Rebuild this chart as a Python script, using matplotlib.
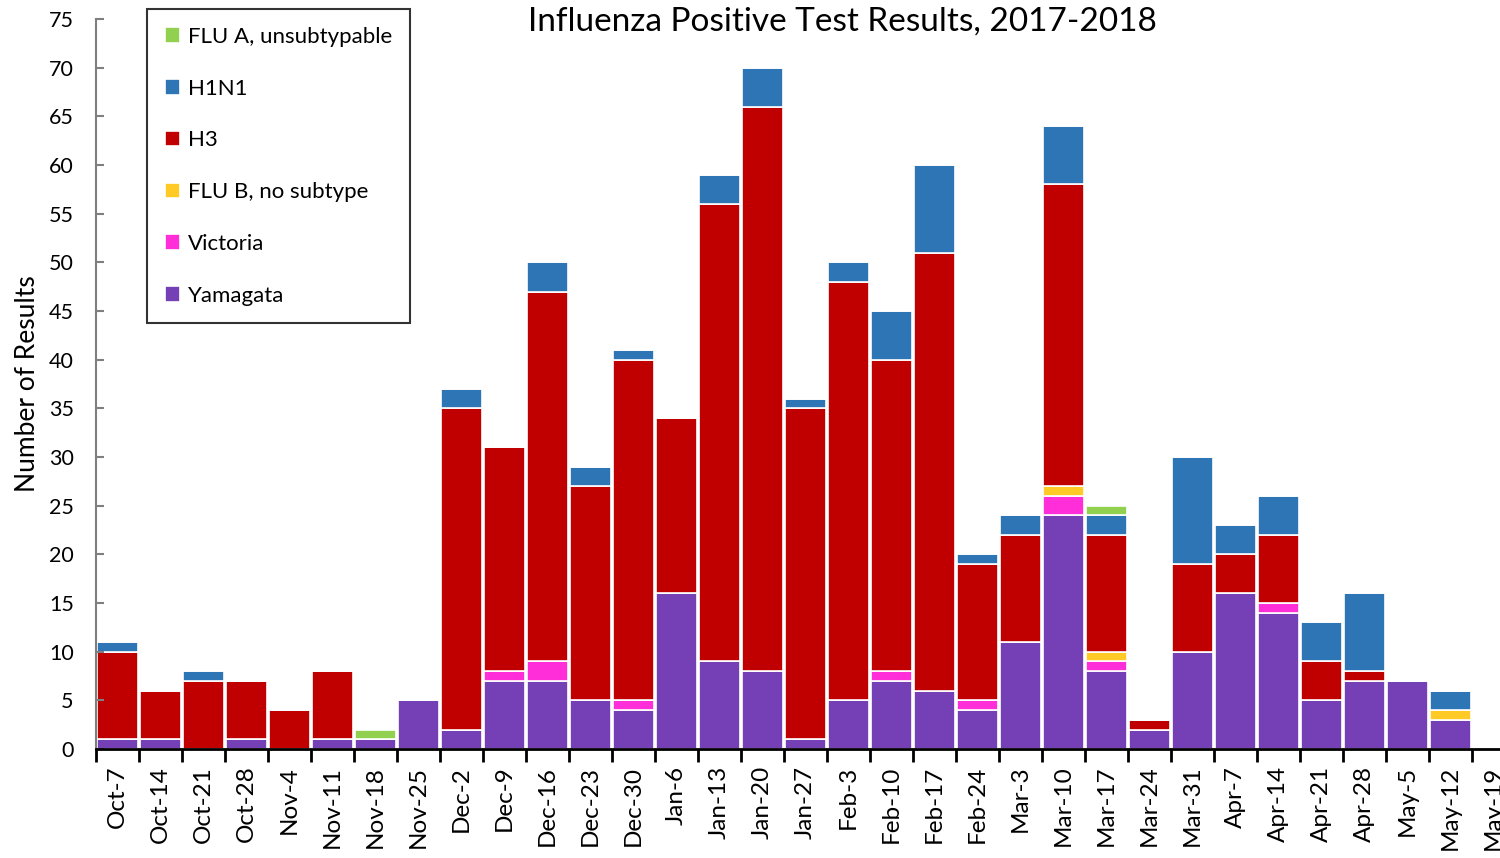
#!/usr/bin/env python3

import matplotlib
matplotlib.use("Agg")
import matplotlib.pyplot as plt
import numpy as np

plt.rcParams['font.family'] = ['Lato', 'DejaVu Sans']

weeks = ["Oct-7", "Oct-14", "Oct-21", "Oct-28", "Nov-4", "Nov-11", "Nov-18", "Nov-25",
         "Dec-2", "Dec-9", "Dec-16", "Dec-23", "Dec-30", "Jan-6", "Jan-13", "Jan-20",
         "Jan-27", "Feb-3", "Feb-10", "Feb-17", "Feb-24", "Mar-3", "Mar-10", "Mar-17",
         "Mar-24", "Mar-31", "Apr-7", "Apr-14", "Apr-21", "Apr-28", "May-5", "May-12", "May-19"]

yamagata = [1, 1, 0, 1, 0, 1, 1, 5, 2, 7, 7, 5, 4, 16, 9, 8,
            1, 5, 7, 6, 4, 11, 24, 8, 2, 10, 16, 14, 5, 7, 7, 3, 0]
victoria = [0, 0, 0, 0, 0, 0, 0, 0, 0, 1, 2, 0, 1, 0, 0, 0,
            0, 0, 1, 0, 1, 0, 2, 1, 0, 0, 0, 1, 0, 0, 0, 0, 0]
flub     = [0, 0, 0, 0, 0, 0, 0, 0, 0, 0, 0, 0, 0, 0, 0, 0,
            0, 0, 0, 0, 0, 0, 1, 1, 0, 0, 0, 0, 0, 0, 0, 1, 0]
h3       = [9, 5, 7, 6, 4, 7, 0, 0, 33, 23, 38, 22, 35, 18, 47, 58,
            34, 43, 32, 45, 14, 11, 31, 12, 1, 9, 4, 7, 4, 1, 0, 0, 0]
h1n1     = [1, 0, 1, 0, 0, 0, 0, 0, 2, 0, 3, 2, 1, 0, 3, 4,
            1, 2, 5, 9, 1, 2, 6, 2, 0, 11, 3, 4, 4, 8, 0, 2, 0]
flua     = [0, 0, 0, 0, 0, 0, 1, 0, 0, 0, 0, 0, 0, 0, 0, 0,
            0, 0, 0, 0, 0, 0, 0, 1, 0, 0, 0, 0, 0, 0, 0, 0, 0]

# bottom to top
series = [
    ("Yamagata", yamagata, "#7540B5"),
    ("Victoria", victoria, "#FF2ED8"),
    ("FLU B, no subtype", flub, "#FFC926"),
    ("H3", h3, "#C00000"),
    ("H1N1", h1n1, "#2E75B6"),
    ("FLU A, unsubtypable", flua, "#92D050"),
]

fig = plt.figure(figsize=(15, 8.58), dpi=100)
ax = fig.add_axes([96 / 1500, 1 - 749 / 858, 1 - 96 / 1500, (749 - 19) / 858])

x = np.arange(len(weeks))
bottom = np.zeros(len(weeks))
handles = {}
for name, vals, color in series:
    vals = np.array(vals, dtype=float)
    b = ax.bar(x, vals, width=0.97, bottom=bottom, color=color,
               edgecolor="white", linewidth=1.2, label=name)
    handles[name] = b
    bottom += vals

ax.set_yticks(np.arange(0, 76, 5))
ax.tick_params(axis="y", direction="in", length=6, width=1.5, color="#7f7f7f",
               labelsize=15.5, pad=16)

ax.set_xticks(x)
ax.set_xticklabels(weeks, rotation=90, fontsize=17.5)
ax.set_xticks(np.arange(-0.5, len(weeks), 1.0), minor=True)
ax.tick_params(axis="x", which="major", length=0, pad=12)
ax.tick_params(axis="x", which="minor", direction="out", length=9, width=2, color="black")

# set limits after ticks, set_xticks can widen the view
ax.set_ylim(0, 75)
ax.set_xlim(-0.5, -0.5 + (1500 - 96) / 43.0)

ax.spines["top"].set_visible(False)
ax.spines["right"].set_visible(False)
ax.spines["left"].set_color("#7f7f7f")
ax.spines["left"].set_linewidth(1.5)
ax.spines["bottom"].set_linewidth(2)

ax.set_ylabel("Number of Results", fontsize=19, labelpad=6)

fig.text(842 / 1500, 1 - 22 / 858, "Influenza Positive Test Results, 2017-2018",
         ha="center", va="center", fontsize=24)

order = ["FLU A, unsubtypable", "H1N1", "H3", "FLU B, no subtype", "Victoria", "Yamagata"]
leg = ax.legend([handles[n] for n in order], order, loc="upper left",
                bbox_to_anchor=((147 - 96) / 1404, 1 + 10 / 730), fontsize=16,
                frameon=True, fancybox=False, edgecolor="black", handlelength=0.7,
                handleheight=0.7, handletextpad=0.35, labelspacing=1.43,
                borderpad=0.8, borderaxespad=0)
leg.get_frame().set_linewidth(1.5)

fig.savefig("out.png", dpi=100)
